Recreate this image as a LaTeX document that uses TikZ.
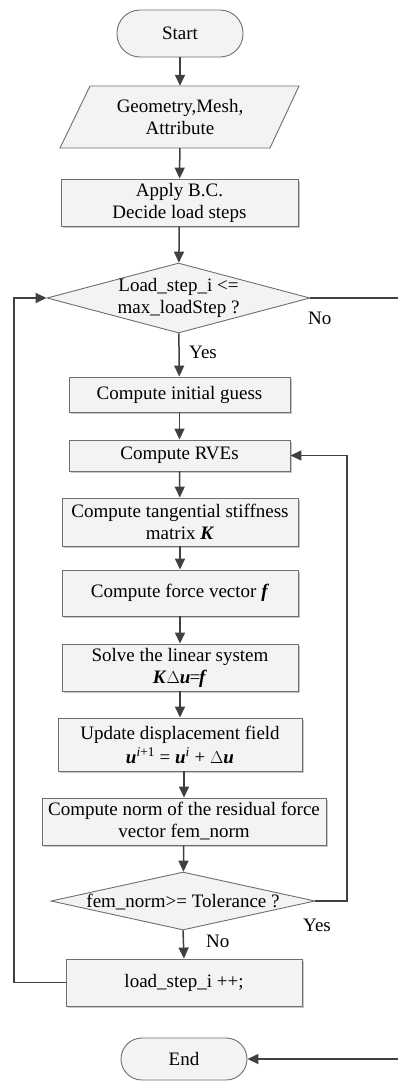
\documentclass[tikz,border=0pt]{standalone}
\usepackage{fontspec}
\setmainfont{Liberation Serif}
\usetikzlibrary{shapes.geometric,arrows.meta,shadows}
\definecolor{bordc}{HTML}{6E6E6E}
\definecolor{fillc}{HTML}{F3F3F3}
\definecolor{linec}{HTML}{404040}
\definecolor{shadc}{HTML}{C8C8C8}
\newcommand{\bi}[1]{\textbf{\textit{#1}}}
\begin{document}
\begin{tikzpicture}[x=1pt,y=-1pt,
  every node/.style={font=\fontsize{19}{22}\selectfont, inner sep=0pt, align=center},
  box/.style={draw=bordc, fill=fillc, line width=0.9pt,
    drop shadow={shadow xshift=1.5pt, shadow yshift=-1.5pt, fill=shadc, opacity=1}},
  term/.style={draw=bordc, fill=fillc, line width=0.9pt},
  dia/.style={shape=diamond, draw=bordc, fill=fillc, line width=0.9pt},
  arr/.style={draw=linec, line width=1.5pt, -{Triangle[length=11pt,width=10pt]}},
  conn/.style={draw=linec, line width=1.5pt}
]
\useasboundingbox (0,0) rectangle (398,1082);
\clip (0,0) rectangle (398,1082);

% Start
\node[term, rounded corners=23pt, minimum width=126pt, minimum height=47pt] (start) at (180,33.5) {Start};

% Parallelogram
\draw[draw=bordc, fill=fillc, line width=0.9pt] (90,86) -- (299,86) -- (270,148) -- (60,148) -- cycle;
\node[minimum width=239pt, minimum height=62pt] (geo) at (180,117) {Geometry,Mesh,\\Attribute};

% Apply BC
\node[box, minimum width=237pt, minimum height=47pt] (bc) at (179.5,202.5) {Apply B.C.\\Decide load steps};

% Diamond 1
\node[dia, minimum width=263pt, minimum height=70pt] (d1) at (178.5,298)
  {\smash{\makebox[0pt]{\raisebox{-0.25em}{\begin{tabular}{@{}c@{}}Load\_step\_i <=\\max\_loadStep ?\end{tabular}}}}};

% Process boxes
\node[box, minimum width=221pt, minimum height=35pt] (ig) at (179.5,394.5) {Compute initial guess};
\node[box, minimum width=221pt, minimum height=31pt] (rve) at (179.5,455.5) {Compute RVEs};
\node[box, minimum width=236pt, minimum height=48pt] (tan) at (180,522) {Compute tangential stiffness\\matrix \bi{K}};
\node[box, minimum width=236pt, minimum height=46pt] (force) at (180,593) {Compute force vector \bi{f}};
\node[box, minimum width=236pt, minimum height=47pt] (solve) at (180,667.5) {Solve the linear system\\\bi{K}$\Delta$\bi{u}\kern-1pt=\kern-1pt\bi{f}};
\node[box, minimum width=244pt, minimum height=53pt] (upd) at (180,744.5)
  {Update displacement field\\[2pt]\bi{u}\textsuperscript{\textit{i}+1} = \bi{u}\textsuperscript{\textit{i}} + $\Delta$\bi{u}};
\node[box, minimum width=284pt, minimum height=47pt] (norm) at (184,821.5) {Compute norm of the residual force\\vector fem\_norm};

% Diamond 2
\node[dia, minimum width=264pt, minimum height=58pt] (d2) at (183,901)
  {\smash{\makebox[0pt]{\raisebox{-0.33em}{fem\_norm>= Tolerance ?}}}};

\node[box, minimum width=236pt, minimum height=47pt] (ls) at (184,982.5) {load\_step\_i ++;};

% End
\node[term, rounded corners=21pt, minimum width=126pt, minimum height=42pt] (end) at (184,1059) {End};

% Coordinates for routing
\coordinate (lp) at (14,640);
\coordinate (yp) at (347,700);
\coordinate (nrt) at (400,298);
\coordinate (nrb) at (400,1059);

% Connectors
\draw[arr] (start) -- (geo);
\draw[arr] (geo) -- (bc);
\draw[arr] (bc) -- (d1);
\draw[arr] (d1) -- (ig);
\draw[arr] (ig) -- (rve);
\draw[arr] (rve) -- (tan);
\draw[arr] (tan) -- (force);
\draw[arr] (force) -- (solve);
\draw[arr] (solve) -- (upd);
\draw[arr] (upd.south -| norm.north) -- (norm.north);
\draw[arr] (norm) -- (d2);
\draw[arr] (d2.south) -- (ls.north);
\draw[arr] (ls.west) -| (lp) |- (d1.west);
\draw[arr] (d2.east) -| (yp) |- (rve.east);
\draw[conn] (d1.east) -- (nrt) -- (nrb);
\draw[arr] (nrb) -- (end.east);

% Labels
\node[anchor=west] (lno1) at (308,318) {No};
\node[anchor=west] (lyes1) at (189,352) {Yes};
\node[anchor=west] (lyes2) at (303,925) {Yes};
\node[anchor=west] (lno2) at (206,941) {No};
\end{tikzpicture}
\end{document}
